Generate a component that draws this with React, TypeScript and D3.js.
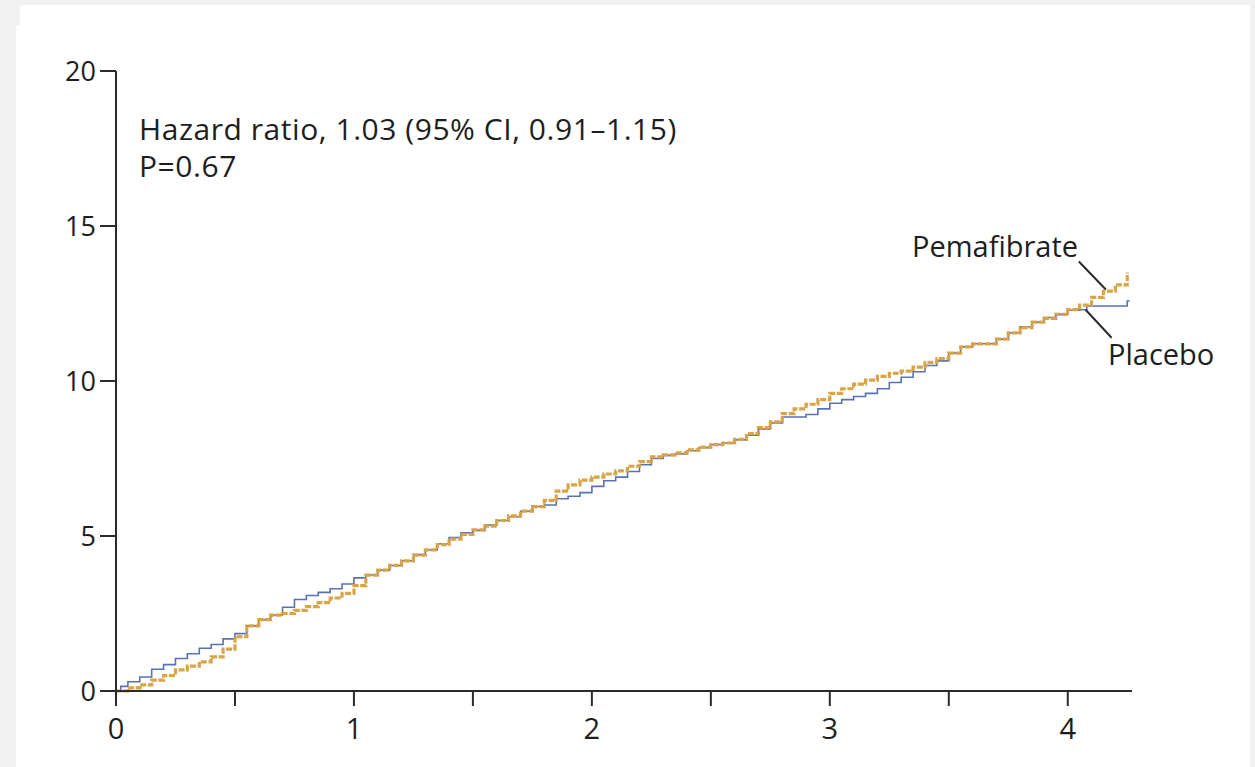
import React from "react";
import * as d3 from "d3";

// Years since randomization
const placeboTimes = [0, 0.02, 0.05, 0.1, 0.15, 0.2, 0.25, 0.3, 0.35, 0.4, 0.45, 0.5, 0.55, 0.6, 0.65, 0.7, 0.75, 0.8, 0.85, 0.9, 0.95, 1.0, 1.05, 1.1, 1.15, 1.2, 1.25, 1.3, 1.35, 1.4, 1.45, 1.5, 1.55, 1.6, 1.65, 1.7, 1.75, 1.8, 1.85, 1.9, 1.95, 2.0, 2.05, 2.1, 2.15, 2.2, 2.25, 2.3, 2.35, 2.4, 2.45, 2.5, 2.55, 2.6, 2.65, 2.7, 2.75, 2.8, 2.85, 2.9, 2.95, 3.0, 3.05, 3.1, 3.15, 3.2, 3.25, 3.3, 3.35, 3.4, 3.45, 3.5, 3.55, 3.6, 3.65, 3.7, 3.75, 3.8, 3.85, 3.9, 3.95, 4.0, 4.05, 4.08, 4.25, 4.26];
const placeboValues = [0, 0.15, 0.3, 0.45, 0.7, 0.85, 1.05, 1.2, 1.38, 1.5, 1.68, 1.85, 2.1, 2.3, 2.45, 2.7, 2.95, 3.08, 3.18, 3.3, 3.45, 3.65, 3.74, 3.9, 4.05, 4.2, 4.4, 4.55, 4.75, 4.95, 5.1, 5.18, 5.35, 5.5, 5.62, 5.8, 5.95, 6.0, 6.2, 6.28, 6.4, 6.6, 6.78, 6.9, 7.08, 7.3, 7.5, 7.6, 7.65, 7.75, 7.85, 7.95, 8.0, 8.1, 8.25, 8.45, 8.65, 8.84, 8.84, 8.92, 9.1, 9.28, 9.4, 9.5, 9.6, 9.75, 9.95, 10.12, 10.3, 10.5, 10.65, 10.9, 11.1, 11.2, 11.2, 11.35, 11.55, 11.75, 11.9, 12.05, 12.15, 12.28, 12.3, 12.42, 12.58, 12.58];

const pemaTimes = [0, 0.05, 0.1, 0.15, 0.2, 0.25, 0.3, 0.35, 0.4, 0.45, 0.5, 0.55, 0.6, 0.65, 0.7, 0.75, 0.8, 0.85, 0.9, 0.95, 1.0, 1.05, 1.1, 1.15, 1.2, 1.25, 1.3, 1.35, 1.4, 1.45, 1.5, 1.55, 1.6, 1.65, 1.7, 1.75, 1.8, 1.85, 1.9, 1.95, 2.0, 2.05, 2.1, 2.15, 2.2, 2.25, 2.3, 2.35, 2.4, 2.45, 2.5, 2.55, 2.6, 2.65, 2.7, 2.75, 2.8, 2.85, 2.9, 2.95, 3.0, 3.05, 3.1, 3.15, 3.2, 3.25, 3.3, 3.35, 3.4, 3.45, 3.5, 3.55, 3.6, 3.65, 3.7, 3.75, 3.8, 3.85, 3.9, 3.95, 4.0, 4.05, 4.1, 4.15, 4.2, 4.25];
const pemaValues = [0, 0.1, 0.2, 0.35, 0.5, 0.68, 0.8, 0.94, 1.1, 1.35, 1.75, 2.1, 2.3, 2.45, 2.5, 2.6, 2.72, 2.85, 3.0, 3.15, 3.4, 3.74, 3.9, 4.05, 4.2, 4.38, 4.55, 4.72, 4.9, 5.05, 5.2, 5.32, 5.5, 5.65, 5.8, 5.95, 6.15, 6.45, 6.65, 6.8, 6.9, 7.0, 7.1, 7.25, 7.4, 7.55, 7.62, 7.68, 7.78, 7.87, 7.95, 8.0, 8.12, 8.3, 8.5, 8.68, 8.95, 9.1, 9.25, 9.4, 9.6, 9.75, 9.9, 10.03, 10.15, 10.25, 10.32, 10.45, 10.6, 10.72, 10.9, 11.1, 11.2, 11.2, 11.35, 11.55, 11.72, 11.9, 12.02, 12.15, 12.3, 12.45, 12.7, 12.9, 13.1, 13.5];

const xTicks = [0, 0.5, 1, 1.5, 2, 2.5, 3, 3.5, 4];
const yTicks = [0, 5, 10, 15, 20];
const annotationLines = ["Hazard ratio, 1.03 (95% CI, 0.91\u20131.15)", "P=0.67"];
const seriesNames = ["Pemafibrate", "Placebo"];

const W = 1255;
const H = 767;
const FONT = "'Open Sans', Lato, sans-serif";

export default function App() {
  const x = d3.scaleLinear().domain([0, 4.27]).range([116, 1132]);
  const y = d3.scaleLinear().domain([0, 20]).range([691, 71]);

  const line = d3
    .line<[number, number]>()
    .x((d) => x(d[0]))
    .y((d) => y(d[1]))
    .curve(d3.curveStepAfter);

  const placebo: [number, number][] = placeboTimes.map((t, i) => [t, placeboValues[i]]);
  const pema: [number, number][] = pemaTimes.map((t, i) => [t, pemaValues[i]]);

  const axisColor = "#2b2b2b";
  const textColor = "#1e1e1e";

  return (
    <>
      <style>{`body{margin:0;}`}</style>
      <svg width={W} height={H} style={{ display: "block" }}>
        <rect x={0} y={0} width={W} height={H} fill="#f1f1f1" />
        <rect x={20} y={5} width={1230} height={H - 5} fill="#ffffff" />
        <rect x={16} y={25} width={1234} height={H - 25} fill="#ffffff" />

        {/* Curves */}
        <path d={line(placebo) || ""} fill="none" stroke="#5872b4" strokeWidth={1.6} />
        <path
          d={line(pema) || ""}
          fill="none"
          stroke="#d9a447"
          strokeWidth={3.2}
          strokeDasharray="6 1.6"
        />

        {/* Y axis */}
        <line x1={x(0)} x2={x(0)} y1={y(0)} y2={y(20)} stroke={axisColor} strokeWidth={2} />
        {yTicks.map((t) => (
          <g key={"y" + t}>
            <line x1={x(0) - 16} x2={x(0)} y1={y(t)} y2={y(t)} stroke={axisColor} strokeWidth={2} />
            <text
              x={x(0) - 20}
              y={y(t)}
              dy="0.36em"
              textAnchor="end"
              fontFamily={FONT}
              fontSize={27}
              fill={textColor}
            >
              {t}
            </text>
          </g>
        ))}

        {/* X axis */}
        <line x1={x(0)} x2={x(4.27)} y1={y(0)} y2={y(0)} stroke={axisColor} strokeWidth={2} />
        {xTicks.map((t) => (
          <g key={"x" + t}>
            <line x1={x(t)} x2={x(t)} y1={y(0)} y2={y(0) + 15} stroke={axisColor} strokeWidth={2} />
            {Number.isInteger(t) && (
              <text
                x={x(t)}
                y={y(0) + 48}
                textAnchor="middle"
                fontFamily={FONT}
                fontSize={29}
                fill={textColor}
              >
                {t}
              </text>
            )}
          </g>
        ))}

        {/* Annotation */}
        {annotationLines.map((s, i) => (
          <text
            key={s}
            x={139}
            y={140 + i * 37}
            fontFamily={FONT}
            fontSize={30}
            letterSpacing={0.55}
            fill={textColor}
          >
            {s}
          </text>
        ))}

        {/* Series labels */}
        <text x={912} y={257} fontFamily={FONT} fontSize={29} fill={textColor}>
          {seriesNames[0]}
        </text>
        <line
          x1={x(4.16) - 27}
          y1={y(12.95) - 28}
          x2={x(4.16)}
          y2={y(12.95)}
          stroke={axisColor}
          strokeWidth={2}
        />
        <text x={1108} y={365} fontFamily={FONT} fontSize={29} fill={textColor}>
          {seriesNames[1]}
        </text>
        <line
          x1={x(4.075)}
          y1={y(12.3)}
          x2={x(4.075) + 26}
          y2={y(12.3) + 28}
          stroke={axisColor}
          strokeWidth={2}
        />
      </svg>
    </>
  );
}
